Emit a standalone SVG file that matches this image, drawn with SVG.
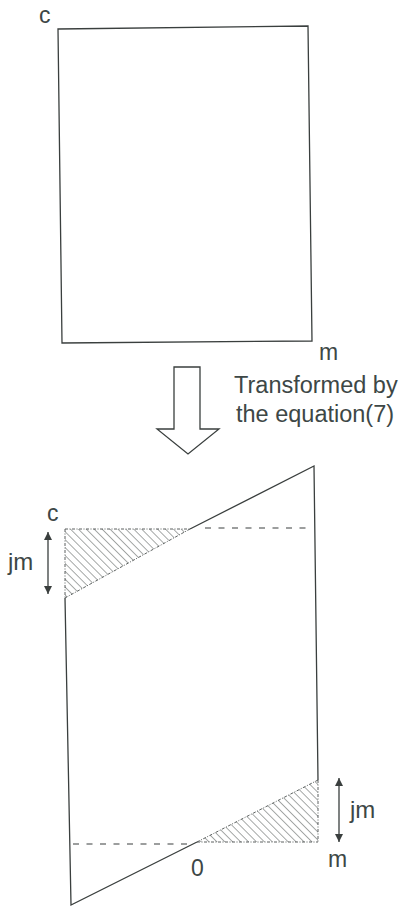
<svg xmlns="http://www.w3.org/2000/svg" width="409" height="907" viewBox="0 0 409 907">
<style>
.ln{fill:none;stroke:#3a3f3e;stroke-width:1.3}
.dash{fill:none;stroke:#3a3f3e;stroke-width:1.2;stroke-dasharray:6 7.5}
.dd{fill:none;stroke:#4a4f4e;stroke-width:0.9;stroke-dasharray:3 1.5 1 1.5}
.tx{font-family:"Liberation Sans",Arial,sans-serif;font-size:23px;fill:#3d4746}
.big{font-size:23.5px}
</style>
<defs>
<pattern id="hatch" patternUnits="userSpaceOnUse" width="5.6" height="5.6" patternTransform="rotate(-45)">
<line x1="0" y1="0" x2="0" y2="5.6" stroke="#3a3f3e" stroke-width="0.9"/>
</pattern>
<marker id="ah" viewBox="0 0 10 10" refX="10" refY="5" markerWidth="10" markerHeight="8" markerUnits="userSpaceOnUse" orient="auto-start-reverse">
<path d="M0,0 L10,5 L0,10 Z" fill="#3a3f3e"/>
</marker>
</defs>
<rect width="409" height="907" fill="#ffffff"/>
<g id="original-rect">
<polygon class="ln" points="58,29 308,26 312,341 62,343"/>
<text class="tx" x="39" y="23">c</text>
<text class="tx" x="319" y="360">m</text>
</g>
<g id="transform-arrow">
<polygon class="ln" points="174,367 200,367 200,429 219,429 188,454 157,429 174,429"/>
<text class="tx big" x="234" y="393">Transformed by</text>
<text class="tx big" x="236" y="422">the equation(7)</text>
</g>
<g id="transformed-shape">
<polygon points="65,529 190,529 65,598" fill="url(#hatch)"/>
<polygon points="197,842 318,842 318,780" fill="url(#hatch)"/>
<polyline class="ln" points="65,598 71,905 197,842"/>
<polyline class="ln" points="318,780 314,466 190,529"/>
<path class="dd" d="M65,529 L190,529 M65,529 L65,598 M190,529 L65,598"/>
<path class="dd" d="M197,842 L318,842 M318,780 L318,842 M197,842 L318,780"/>
<text class="tx" x="47" y="521">c</text>
<text class="tx" x="191" y="876">0</text>
<text class="tx" x="328" y="867">m</text>
</g>
<g id="connectors">
<line class="dash" x1="205" y1="528" x2="313" y2="528"/>
<line class="dash" x1="73" y1="844" x2="190" y2="844"/>
<line class="ln" x1="48" y1="532" x2="48" y2="594" marker-start="url(#ah)" marker-end="url(#ah)"/>
<line class="ln" x1="339" y1="778" x2="339" y2="842" marker-start="url(#ah)" marker-end="url(#ah)"/>
<text class="tx" x="8" y="570" style="font-size:24px">jm</text>
<text class="tx" x="350" y="818" style="font-size:24px">jm</text>
</g>
</svg>
